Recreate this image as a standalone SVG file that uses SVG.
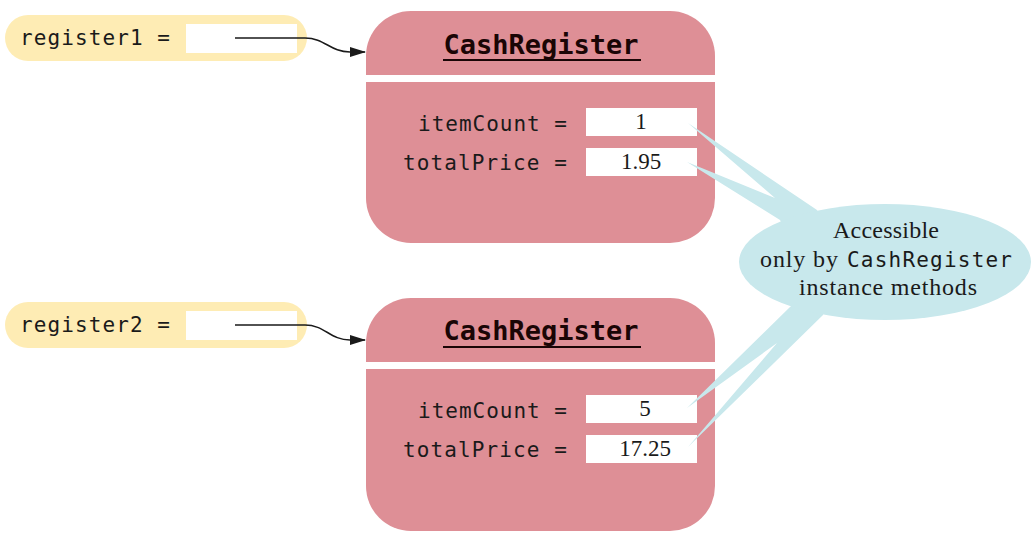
<svg xmlns="http://www.w3.org/2000/svg" width="1036" height="544" viewBox="0 0 1036 544">
<style>
.pill{fill:#feecb4}
.obj{fill:#de8f96}
.box{fill:#ffffff}
.sep{fill:#ffffff}
.mono{font-family:"DejaVu Sans Mono","Liberation Mono",monospace;font-size:21px;fill:#1a1a1a}
.title{font-family:"DejaVu Sans Mono","Liberation Mono",monospace;font-size:27px;font-weight:bold;fill:#1a0505;text-anchor:middle}
.val{font-family:"Liberation Serif","DejaVu Serif",serif;font-size:23px;fill:#1a1a1a;text-anchor:middle}
.call{fill:#c8e8ec}
.ctext{font-family:"Liberation Serif","DejaVu Serif",serif;font-size:24px;fill:#1a1a1a}
.conn{fill:none;stroke:#1a1a1a;stroke-width:1.5}
</style>
<defs>
<marker id="arrow" markerWidth="16" markerHeight="10" refX="15" refY="5" orient="auto" markerUnits="userSpaceOnUse">
<path d="M0,0 L16,5 L0,10 Z" fill="#1a1a1a"/>
</marker>
</defs>
<g id="register1">
<rect class="pill" x="5" y="15" width="302" height="46" rx="23"/>
<rect class="box" x="186" y="24" width="111" height="29"/>
<text class="mono" x="20" y="45" textLength="150">register1 =</text>
</g>
<g id="register2">
<rect class="pill" x="5" y="302" width="302" height="46" rx="23"/>
<rect class="box" x="186" y="311" width="111" height="29"/>
<text class="mono" x="20" y="332" textLength="150">register2 =</text>
</g>
<g id="object1">
<rect class="obj" x="366" y="11" width="349" height="232" rx="45"/>
<rect class="sep" x="366" y="75" width="349" height="7"/>
<text class="title" x="541" y="54">CashRegister</text>
<rect x="443" y="59" width="198" height="2" fill="#1a0505"/>
<text class="mono" x="567" y="131" text-anchor="end" textLength="149">itemCount =</text>
<text class="mono" x="567" y="170" text-anchor="end" textLength="164">totalPrice =</text>
<rect class="box" x="586" y="108" width="111" height="28"/>
<rect class="box" x="586" y="148" width="111" height="28"/>
<text class="val" x="641" y="129">1</text>
<text class="val" x="641" y="169">1.95</text>
</g>
<g id="object2">
<rect class="obj" x="366" y="298" width="349" height="233" rx="45"/>
<rect class="sep" x="366" y="362" width="349" height="7"/>
<text class="title" x="541" y="340">CashRegister</text>
<rect x="443" y="346" width="198" height="2" fill="#1a0505"/>
<text class="mono" x="567" y="418" text-anchor="end" textLength="149">itemCount =</text>
<text class="mono" x="567" y="457" text-anchor="end" textLength="164">totalPrice =</text>
<rect class="box" x="586" y="395" width="111" height="28"/>
<rect class="box" x="586" y="435" width="111" height="28"/>
<text class="val" x="645" y="416">5</text>
<text class="val" x="645" y="456">17.25</text>
</g>
<g id="connectors">
<path class="conn" d="M235,38 L305,38 C325,38 330,52 350,52 L365,52" marker-end="url(#arrow)"/>
<path class="conn" d="M235,325 L305,325 C325,325 330,340 350,340 L365,340" marker-end="url(#arrow)"/>
</g>
<g id="callout">
<polygon class="call" points="688,123 817,210 830,240 790,240 780,220 687,162 775,198"/>
<polygon class="call" points="687,408 790,307 810,290 830,290 823,315 688,447 777,343"/>
<ellipse class="call" cx="885" cy="262" rx="146" ry="58"/>
<text class="ctext" x="833" y="238" textLength="106">Accessible</text>
<text class="ctext" x="760" y="267" textLength="78">only by</text>
<text class="mono" x="847" y="267" textLength="165">CashRegister</text>
<text class="ctext" x="799" y="295" textLength="178">instance methods</text>
</g>
</svg>
